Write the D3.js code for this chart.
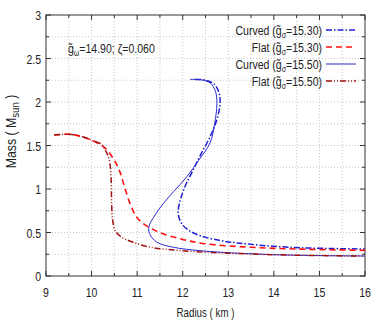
<!DOCTYPE html>
<html>
<head>
<script src="https://cdn.jsdelivr.net/npm/d3@7"></script>
<style>
  body { margin: 0; background: #fff; }
  text { font-family: "Liberation Sans", Arial, Helvetica, sans-serif; fill: #222; }
</style>
</head>
<body>
<svg id="mainsvg" width="382" height="322"></svg>
<script>
// values
const xTicks = [9, 10, 11, 12, 13, 14, 15, 16]
const yTicks = [0, 0.5, 1, 1.5, 2, 2.5, 3]

const flat155R = [9.18, 9.5, 9.8, 10.05, 10.2, 10.33, 10.4, 10.43, 10.44, 10.46, 10.52, 10.65, 10.9, 11.3, 12, 13, 14, 15, 16]
const flat155M = [1.62, 1.63, 1.60, 1.55, 1.52, 1.42, 1.3, 1.1, 0.85, 0.65, 0.52, 0.45, 0.39, 0.33, 0.29, 0.262, 0.245, 0.235, 0.228]

const flat153R = [9.18, 9.5, 9.8, 10.05, 10.3, 10.5, 10.62, 10.72, 10.84, 11.0, 11.2, 11.5, 12, 12.5, 13.5, 14.5, 16]
const flat153M = [1.62, 1.63, 1.60, 1.55, 1.47, 1.33, 1.2, 1.03, 0.84, 0.67, 0.58, 0.5, 0.42, 0.37, 0.33, 0.31, 0.295]

const curv155R = [12.16, 12.4, 12.6, 12.72, 12.75, 12.7, 12.6, 12.35, 12.09, 11.8, 11.57, 11.38, 11.26, 11.27, 11.43, 11.8, 12.4, 13.3, 14.35, 16]
const curv155M = [2.26, 2.255, 2.22, 2.12, 1.98, 1.75, 1.53, 1.33, 1.14, 0.97, 0.83, 0.69, 0.57, 0.49, 0.39, 0.33, 0.29, 0.26, 0.24, 0.23]

const curv153R = [12.27, 12.5, 12.7, 12.8, 12.82, 12.75, 12.6, 12.4, 12.23, 12.06, 11.95, 11.9, 11.98, 12.15, 12.4, 12.8, 13.2, 14.35, 16]
const curv153M = [2.26, 2.25, 2.2, 2.1, 1.98, 1.8, 1.6, 1.4, 1.22, 1.04, 0.88, 0.72, 0.6, 0.52, 0.46, 0.41, 0.38, 0.33, 0.31]

const legendNames = ['Curved', 'Flat', 'Curved', 'Flat']
const legendG = ['15.30', '15.30', '15.50', '15.50']

const svg = d3.select('#mainsvg')
const margin = {top: 15, right: 17, bottom: 46, left: 46}
const width = 382 - margin.left - margin.right
const height = 322 - margin.top - margin.bottom
const SX = 0.78   // the original font is a narrow one

const g = svg.append('g').attr('transform', `translate(${margin.left},${margin.top})`)

const x = d3.scaleLinear().domain([9, 16]).range([0, width])
const y = d3.scaleLinear().domain([0, 3]).range([height, 0])

const xMinor = d3.range(9, 16.01, 0.5)
const yMinor = d3.range(0, 3.01, 0.25)

// dotted grid at every minor step
g.append('g').selectAll('line').data(xMinor.slice(1, -1)).join('line')
  .attr('x1', d => x(d)).attr('x2', d => x(d))
  .attr('y1', 0).attr('y2', height)
  .attr('stroke', '#c8c8c8').attr('stroke-width', 1).attr('stroke-dasharray', '1,2')
g.append('g').selectAll('line').data(yMinor.slice(1, -1)).join('line')
  .attr('y1', d => y(d)).attr('y2', d => y(d))
  .attr('x1', 0).attr('x2', width)
  .attr('stroke', '#c8c8c8').attr('stroke-width', 1).attr('stroke-dasharray', '1,2')

// ticks inward on all four sides
const tk = g.append('g').attr('stroke', '#333').attr('stroke-width', 1)
xMinor.forEach(v => {
  const len = Number.isInteger(v) ? 5 : 3
  tk.append('line').attr('x1', x(v)).attr('x2', x(v)).attr('y1', height).attr('y2', height - len)
  tk.append('line').attr('x1', x(v)).attr('x2', x(v)).attr('y1', 0).attr('y2', len)
})
yMinor.forEach(v => {
  const len = Math.abs(v * 2 - Math.round(v * 2)) < 1e-6 ? 5 : 3
  tk.append('line').attr('y1', y(v)).attr('y2', y(v)).attr('x1', 0).attr('x2', len)
  tk.append('line').attr('y1', y(v)).attr('y2', y(v)).attr('x1', width).attr('x2', width - len)
})

g.append('rect').attr('width', width).attr('height', height)
  .attr('fill', 'none').attr('stroke', '#333').attr('stroke-width', 1)

// tick labels
g.append('g').selectAll('text').data(xTicks).join('text')
  .attr('transform', d => `translate(${x(d)},${height + 21}) scale(${SX},1)`)
  .attr('text-anchor', 'middle').attr('font-size', 13.5)
  .text(d => d)
g.append('g').selectAll('text').data(yTicks).join('text')
  .attr('transform', d => `translate(-5,${y(d) + 5}) scale(${SX},1)`)
  .attr('text-anchor', 'end').attr('font-size', 13.5)
  .text(d => d)

// axis titles
svg.append('text').attr('transform', `translate(${margin.left + width / 2},317) scale(${SX},1)`)
  .attr('text-anchor', 'middle').attr('font-size', 12.5).text('Radius ( km )')
const yl = svg.append('text').attr('transform', `translate(16,${margin.top + height / 2 - 14}) rotate(-90) scale(0.88,1)`)
  .attr('text-anchor', 'middle').attr('font-size', 14)
yl.append('tspan').text('Mass (  M')
yl.append('tspan').attr('font-size', 11).attr('dy', 3).text('sun')
yl.append('tspan').attr('dy', -3).text('  )')

// curves
const line = d3.line().x(d => x(d[0])).y(d => y(d[1])).curve(d3.curveCatmullRom)
const series = [
  {r: curv153R, m: curv153M, color: '#1f1fd6', w: 1.5, dash: '6,2,1.5,2'},
  {r: flat153R, m: flat153M, color: '#ff1010', w: 1.6, dash: '6,4'},
  {r: curv155R, m: curv155M, color: '#2a2ad0', w: 1, dash: null},
  {r: flat155R, m: flat155M, color: '#a01010', w: 1.5, dash: '6,2,1,2,1,2'}
]
g.append('g').selectAll('path').data(series).join('path')
  .attr('d', s => line(s.r.map((v, i) => [v, s.m[i]])))
  .attr('fill', 'none')
  .attr('stroke', s => s.color)
  .attr('stroke-width', s => s.w)
  .attr('stroke-dasharray', s => s.dash)

// legend
const lg = svg.append('g')
series.forEach((s, i) => {
  const yy = 30 + i * 17
  const t = lg.append('text').attr('transform', `translate(322,${yy + 5}) scale(${SX},1)`)
    .attr('text-anchor', 'end').attr('font-size', 13.5)
  t.append('tspan').text(legendNames[i] + ' (g\u0303')
  t.append('tspan').attr('font-size', 9).attr('dy', 3).text('\u03c3')
  t.append('tspan').attr('dy', -3).text('=' + legendG[i] + ')')
  lg.append('line').attr('x1', 326).attr('x2', 356).attr('y1', yy).attr('y2', yy)
    .attr('stroke', s.color).attr('stroke-width', s.w).attr('stroke-dasharray', s.dash)
})

// annotation
const an = svg.append('text').attr('transform', `translate(68,53) scale(${SX},1)`).attr('font-size', 13.5)
an.append('tspan').text('g\u0303')
an.append('tspan').attr('font-size', 9).attr('dy', 3).text('\u03c9')
an.append('tspan').attr('dy', -3).text('=14.90; \u03b6=0.060')
</script>
</body>
</html>
